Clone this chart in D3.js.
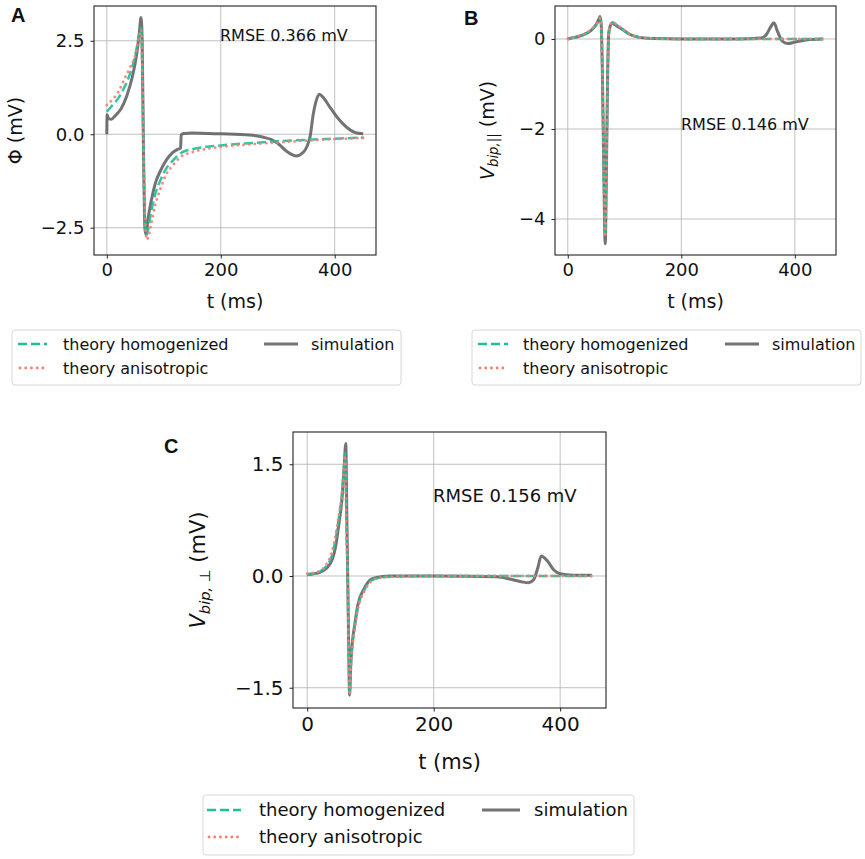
<!DOCTYPE html>
<html>
<head>
<meta charset="utf-8">
<script src="https://d3js.org/d3.v7.min.js"></script>
<style>
  body { margin: 0; background: #fff; }
  text { font-family: "DejaVu Sans", sans-serif; fill: #111; }
  .panel-letter { font-family: "Liberation Sans", Arial, sans-serif; font-weight: bold; }
  .grid line { stroke: #b0b0b0; stroke-width: 0.8; }
</style>
</head>
<body>
<svg id="fig" width="865" height="859"></svg>
<script>
// ---- data (t in ms, V in mV) ----
var tA_sim = [0, 0.5, 3, 8, 15, 25, 35, 45, 52, 57, 60, 62, 64, 67, 69, 72, 78, 85, 95, 105, 115, 125, 129.5, 130.5, 135, 150, 200, 250, 275, 290, 300, 315, 332, 345, 352, 357, 362, 368, 373, 380, 390, 405, 420, 435, 450];
var vA_sim = [0, 0.52, 0.42, 0.4, 0.5, 0.68, 1.02, 1.55, 2.1, 2.7, 3.12, 2.55, 0.0, -2.55, -2.68, -2.3, -1.78, -1.32, -0.95, -0.68, -0.5, -0.4, -0.37, -0.02, 0.02, 0.03, 0.01, -0.02, -0.08, -0.15, -0.24, -0.45, -0.58, -0.48, -0.3, -0.05, 0.5, 0.92, 1.07, 0.98, 0.76, 0.44, 0.2, 0.05, 0.01];
var tA_hom = [0, 10, 20, 30, 40, 50, 56, 60, 62, 64, 66, 68, 70, 73, 78, 85, 95, 105, 115, 130, 150, 200, 250, 300, 350, 400, 450];
var vA_hom = [0.6, 0.78, 0.96, 1.23, 1.59, 2.12, 2.6, 2.85, 2.0, 0.0, -1.8, -2.6, -2.69, -2.5, -2.07, -1.6, -1.2, -0.9, -0.72, -0.5, -0.4, -0.3, -0.24, -0.19, -0.15, -0.12, -0.09];
var tA_ani = [0, 10, 20, 30, 40, 50, 56, 60, 62, 64, 67, 70, 72, 78, 85, 95, 105, 115, 130, 150, 200, 250, 300, 350, 400, 450];
var vA_ani = [0.78, 0.93, 1.12, 1.45, 1.76, 2.12, 2.55, 2.8, 2.0, 0.0, -2.2, -2.82, -2.78, -2.4, -1.9, -1.42, -1.05, -0.85, -0.6, -0.48, -0.34, -0.27, -0.22, -0.17, -0.13, -0.1];

var tB_sim = [0, 10, 20, 30, 40, 50, 55, 57, 59, 61, 63, 66, 68, 70, 72, 75, 78, 85, 100, 110, 130, 150, 200, 300, 340, 350, 358, 363, 370, 378, 387, 400, 420, 450];
var vB_sim = [0, 0.03, 0.06, 0.11, 0.18, 0.32, 0.45, 0.5, 0.3, -0.8, -2.5, -4.55, -3.0, -1.0, 0.1, 0.3, 0.35, 0.3, 0.18, 0.1, 0.03, 0.01, 0, 0, 0.02, 0.1, 0.28, 0.36, 0.15, -0.05, -0.1, -0.07, -0.02, 0];
var tB_hom = [0, 10, 20, 30, 40, 50, 55, 57, 59, 61, 63, 66, 68, 70, 72, 75, 79, 85, 100, 110, 130, 150, 200, 300, 400, 450];
var vB_hom = [0, 0.03, 0.06, 0.11, 0.19, 0.32, 0.44, 0.46, 0.28, -0.8, -2.5, -4.35, -2.9, -1.0, 0.1, 0.3, 0.37, 0.32, 0.18, 0.1, 0.03, 0.01, 0, 0, 0, 0];
var tB_ani = [0, 10, 20, 30, 40, 50, 55, 57, 59, 61, 63, 66, 68, 70, 72, 75, 79, 85, 100, 110, 130, 150, 200, 300, 400, 450];
var vB_ani = [0, 0.03, 0.07, 0.12, 0.2, 0.33, 0.45, 0.47, 0.28, -0.8, -2.5, -4.4, -2.9, -1.0, 0.1, 0.3, 0.38, 0.33, 0.19, 0.1, 0.03, 0.01, 0, 0, 0, 0];

var tC_sim = [0, 10, 20, 30, 40, 45, 50, 55, 58, 61, 62.5, 64, 65.5, 67, 69, 72, 75, 80, 90, 100, 110, 130, 200, 300, 320, 340, 350, 358, 365, 370, 380, 390, 400, 420, 450];
var vC_sim = [0.02, 0.03, 0.05, 0.1, 0.23, 0.4, 0.69, 1.04, 1.4, 1.78, 0.9, 0.0, -0.9, -1.6, -1.15, -0.84, -0.66, -0.39, -0.17, -0.05, -0.02, 0, 0, -0.01, -0.04, -0.08, -0.09, -0.05, 0.12, 0.27, 0.2, 0.08, 0.03, 0.01, 0.01];
var tC_hom = [0, 10, 20, 30, 40, 45, 50, 55, 58, 60, 62, 64, 66, 67, 69, 72, 75, 80, 90, 100, 110, 130, 200, 300, 400, 450];
var vC_hom = [0.02, 0.03, 0.06, 0.13, 0.3, 0.5, 0.78, 1.1, 1.45, 1.65, 0.7, 0.0, -1.2, -1.58, -1.2, -0.88, -0.68, -0.42, -0.19, -0.07, -0.03, -0.01, 0, 0, 0, 0];
var tC_ani = [0, 10, 20, 30, 40, 45, 50, 55, 58, 60, 62, 64, 66, 67, 69, 72, 75, 80, 90, 100, 110, 130, 200, 300, 400, 450];
var vC_ani = [0.03, 0.04, 0.07, 0.15, 0.35, 0.55, 0.82, 1.12, 1.45, 1.62, 0.7, 0.0, -1.2, -1.6, -1.25, -0.92, -0.72, -0.45, -0.21, -0.08, -0.03, -0.01, 0, 0, 0, 0];

var xTicks = [0, 200, 400];
var yTicksA = [-2.5, 0, 2.5], yLabelsA = ["\u22122.5", "0.0", "2.5"];
var yTicksB = [-4, -2, 0],    yLabelsB = ["\u22124", "\u22122", "0"];
var yTicksC = [-1.5, 0, 1.5], yLabelsC = ["\u22121.5", "0.0", "1.5"];
var rmse = ["RMSE 0.366 mV", "RMSE 0.146 mV", "RMSE 0.156 mV"];
var legendNames = ["theory homogenized", "theory anisotropic", "simulation"];

var colSim = "#5a5a5a", colHom = "#1cbf9b", colAni = "#f47f72";

var svg = d3.select("#fig");

function zip(t, v) { return t.map(function(d, i) { return [d, v[i]]; }); }

function dotted(sel) {
  return sel.attr("stroke", colAni).attr("stroke-width", 2.8)
    .attr("stroke-dasharray", "0.1,5.6").attr("stroke-linecap", "round");
}

function drawPanel(p) {
  var x = d3.scaleLinear().domain([-22.5, 472.5]).range([p.left, p.right]);
  var y = d3.scaleLinear().domain(p.ydom).range([p.bottom, p.top]);
  var g = svg.append("g");

  // grid
  var grid = g.append("g").attr("class", "grid");
  grid.selectAll(".gx").data(xTicks).enter().append("line")
    .attr("x1", d => x(d)).attr("x2", d => x(d)).attr("y1", p.top).attr("y2", p.bottom);
  grid.selectAll(".gy").data(p.yt).enter().append("line")
    .attr("y1", d => y(d)).attr("y2", d => y(d)).attr("x1", p.left).attr("x2", p.right);

  var line = d3.line().x(d => x(d[0])).y(d => y(d[1])).curve(d3.curveMonotoneX);

  g.append("path").datum(zip(p.tSim, p.vSim)).attr("d", line)
    .attr("fill", "none").attr("stroke", colSim).attr("stroke-width", 3)
    .attr("stroke-opacity", 0.85).attr("stroke-linejoin", "round");
  g.append("path").datum(zip(p.tHom, p.vHom)).attr("d", line)
    .attr("fill", "none").attr("stroke", colHom).attr("stroke-width", 2.5)
    .attr("stroke-dasharray", "9,4").attr("stroke-opacity", 0.9);
  g.append("path").datum(zip(p.tAni, p.vAni)).attr("d", line)
    .attr("fill", "none").call(dotted).attr("stroke-opacity", 0.9);

  // frame
  g.append("rect").attr("x", p.left).attr("y", p.top)
    .attr("width", p.right - p.left).attr("height", p.bottom - p.top)
    .attr("fill", "none").attr("stroke", "#222").attr("stroke-width", 1.1);

  var xa = g.append("g").attr("transform", "translate(0," + p.bottom + ")")
    .call(d3.axisBottom(x).tickValues(xTicks).tickSize(3.5).tickPadding(5).tickFormat(d3.format("d")));
  var ya = g.append("g").attr("transform", "translate(" + p.left + ",0)")
    .call(d3.axisLeft(y).tickValues(p.yt).tickSize(3.5).tickPadding(6)
      .tickFormat(function(d, i) { return p.yl[i]; }));
  [xa, ya].forEach(function(a) {
    a.select(".domain").remove();
    a.selectAll("text").style("font-family", "DejaVu Sans").style("font-size", p.fs + "px").attr("fill", "#111");
    a.selectAll("line").attr("stroke", "#222");
  });

  g.append("text").attr("x", (p.left + p.right) / 2).attr("y", p.xlabY)
    .attr("text-anchor", "middle").style("font-size", p.fl + "px").text("t (ms)");

  var yl = g.append("text")
    .attr("transform", "translate(" + p.ylabX + "," + ((p.top + p.bottom) / 2) + ") rotate(-90)")
    .attr("text-anchor", "middle").style("font-size", p.fl + "px");
  if (p.sub) {
    yl.append("tspan").style("font-style", "italic").text("V");
    yl.append("tspan").style("font-style", "italic").style("font-size", (p.fl * 0.7) + "px")
      .attr("dy", p.fl * 0.22).text(p.sub);
    yl.append("tspan").attr("dy", -p.fl * 0.22).text(" (mV)");
  } else {
    yl.text("\u03a6 (mV)");
  }

  g.append("text").attr("x", p.rmseX).attr("y", p.rmseY)
    .style("font-size", p.fr + "px").text(p.rmse);

  g.append("text").attr("class", "panel-letter").attr("x", p.letX).attr("y", p.letY)
    .style("font-size", "20px").text(p.letter);

  // legend
  var L = p.leg;
  var lg = g.append("g");
  lg.append("rect").attr("x", L.x0).attr("y", L.y0).attr("width", L.x1 - L.x0).attr("height", L.y1 - L.y0)
    .attr("rx", 3).attr("fill", "#fff").attr("stroke", "#d8d8d8").attr("stroke-width", 1);
  lg.append("line").attr("x1", L.h0).attr("x2", L.h1).attr("y1", L.r1).attr("y2", L.r1)
    .attr("stroke", colHom).attr("stroke-width", 2.5).attr("stroke-dasharray", "9,4");
  lg.append("line").attr("x1", L.h0 + 2).attr("x2", L.h1).attr("y1", L.r2).attr("y2", L.r2)
    .call(dotted);
  lg.append("line").attr("x1", L.s0).attr("x2", L.s1).attr("y1", L.r1).attr("y2", L.r1)
    .attr("stroke", colSim).attr("stroke-width", 3).attr("stroke-opacity", 0.85);
  [[L.tx, L.r1, legendNames[0]], [L.tx, L.r2, legendNames[1]], [L.stx, L.r1, legendNames[2]]].forEach(function(e) {
    lg.append("text").attr("x", e[0]).attr("y", e[1]).attr("dy", "0.35em")
      .style("font-size", p.fr + "px").text(e[2]);
  });
}

drawPanel({
  left: 94, right: 376, top: 6, bottom: 255, ydom: [-3.23, 3.43],
  yt: yTicksA, yl: yLabelsA, tSim: tA_sim, vSim: vA_sim, tHom: tA_hom, vHom: vA_hom, tAni: tA_ani, vAni: vA_ani,
  fs: 18, fl: 19, fr: 16, xlabY: 308, ylabX: 22, sub: null,
  rmse: rmse[0], rmseX: 220, rmseY: 41, letter: "A", letX: 11, letY: 22,
  leg: { x0: 12, x1: 401, y0: 330, y1: 385, r1: 344, r2: 368, h0: 18, h1: 47, tx: 63, s0: 264, s1: 298, stx: 311 }
});
drawPanel({
  left: 555, right: 836, top: 6, bottom: 255, ydom: [-4.8, 0.733],
  yt: yTicksB, yl: yLabelsB, tSim: tB_sim, vSim: vB_sim, tHom: tB_hom, vHom: vB_hom, tAni: tB_ani, vAni: vB_ani,
  fs: 18, fl: 19, fr: 16, xlabY: 308, ylabX: 494, sub: "bip,||",
  rmse: rmse[1], rmseX: 681, rmseY: 130, letter: "B", letX: 464, letY: 25,
  leg: { x0: 472, x1: 861, y0: 330, y1: 385, r1: 344, r2: 368, h0: 478, h1: 508, tx: 523, s0: 725, s1: 759, stx: 772 }
});
drawPanel({
  left: 293, right: 606, top: 432, bottom: 708, ydom: [-1.772, 1.933],
  yt: yTicksC, yl: yLabelsC, tSim: tC_sim, vSim: vC_sim, tHom: tC_hom, vHom: vC_hom, tAni: tC_ani, vAni: vC_ani,
  fs: 20, fl: 21, fr: 18, xlabY: 769, ylabX: 205, sub: "bip, \u22a5",
  rmse: rmse[2], rmseX: 433, rmseY: 502, letter: "C", letX: 164, letY: 453,
  leg: { x0: 203, x1: 634, y0: 795, y1: 855, r1: 810, r2: 837, h0: 207, h1: 241, tx: 259, s0: 482, s1: 520, stx: 534 }
});
</script>
</body>
</html>
